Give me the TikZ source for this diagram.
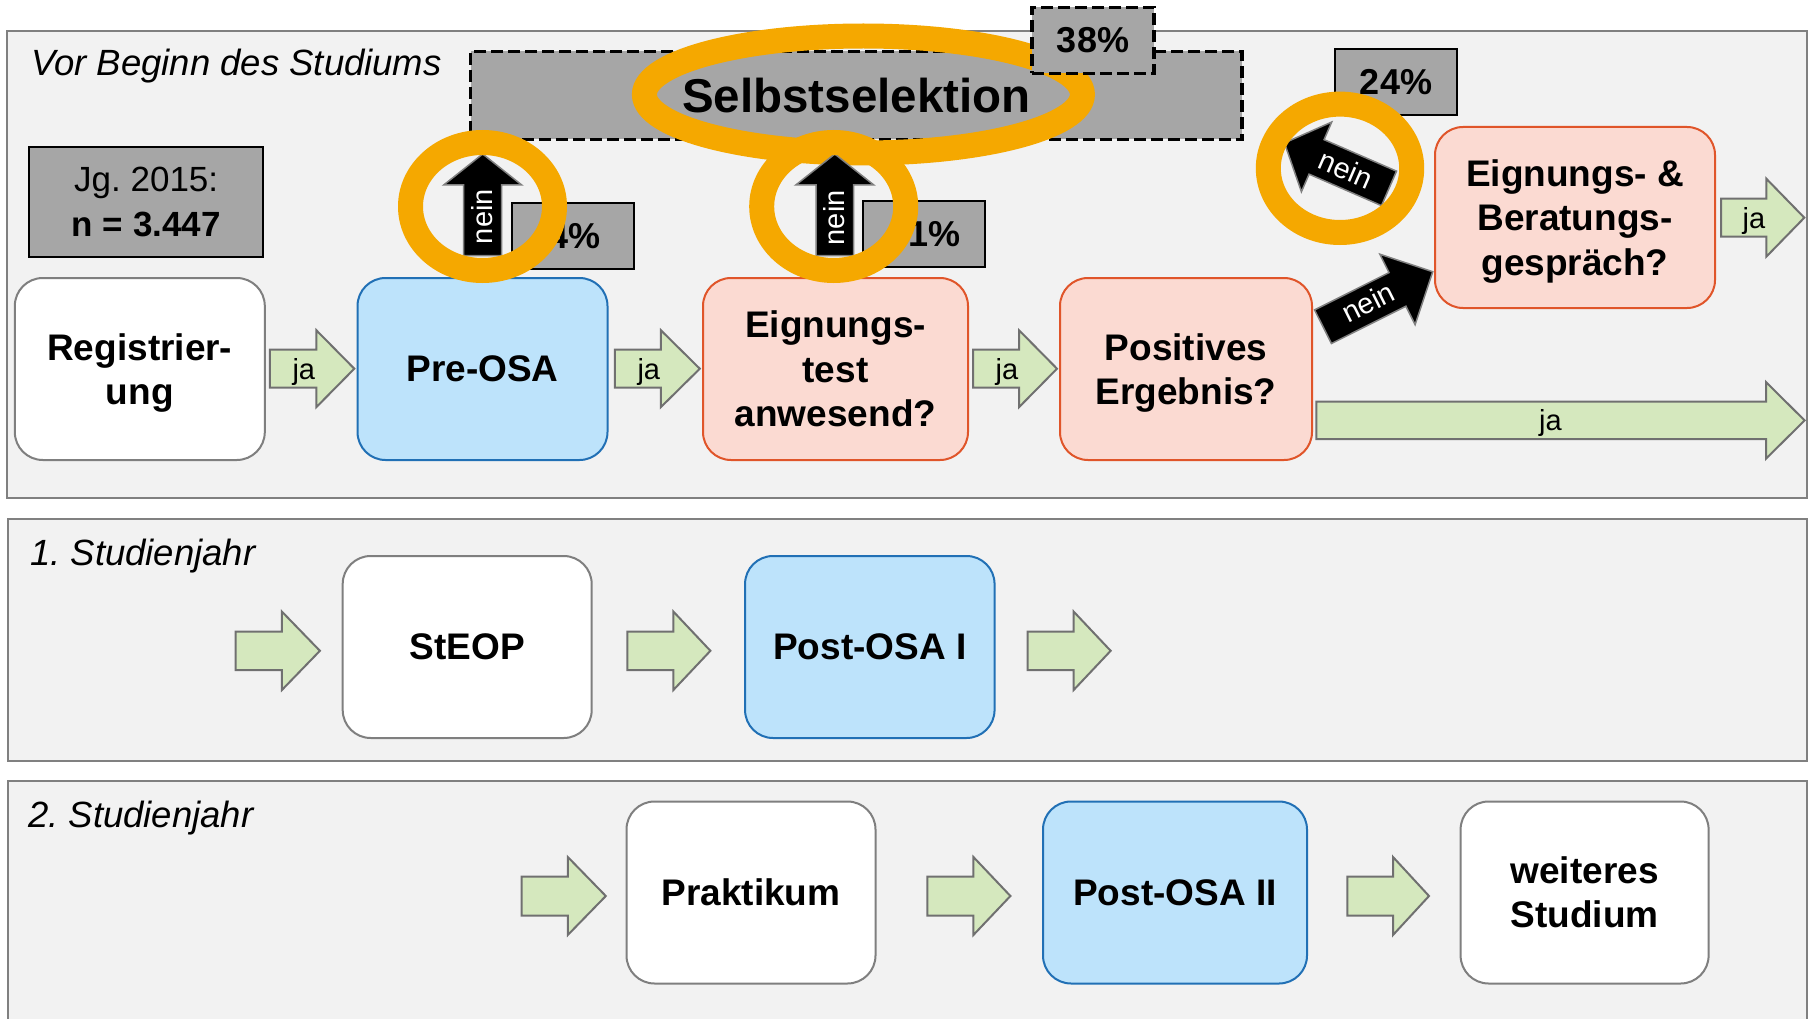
\documentclass[tikz,border=0pt]{standalone}
\usepackage{fontspec}
\setmainfont{Liberation Sans}
\usetikzlibrary{calc}
\frenchspacing
\definecolor{panelfill}{HTML}{F2F2F2}
\definecolor{panelline}{HTML}{808080}
\definecolor{bluefill}{HTML}{BDE3FB}
\definecolor{blueline}{HTML}{2170B5}
\definecolor{pinkfill}{HTML}{FBDAD2}
\definecolor{pinkline}{HTML}{E0552A}
\definecolor{greenfill}{HTML}{D5E8BE}
\definecolor{arrowline}{HTML}{707070}
\definecolor{boxgray}{HTML}{A6A6A6}
\definecolor{ringorange}{HTML}{F5A800}
\definecolor{whiteline}{HTML}{7F7F7F}
\tikzset{
  pics/barrow/.style args={#1/#2/#3/#4}{code={%
    \path[pic actions] (0,#2) -- ({#1-#4},#2) -- ({#1-#4},#3) -- (#1,0) -- ({#1-#4},-#3) -- ({#1-#4},-#2) -- (0,-#2) -- cycle;}},
  panel/.style={draw=panelline, fill=panelfill, line width=2.5pt},
  paneltitle/.style={anchor=base west, inner sep=0pt, font=\fontsize{36.5}{44}\selectfont\itshape},
  stepbox/.style={rounded corners=28pt, line width=2pt, minimum width=250pt, minimum height=182pt, align=center, inner sep=0pt, font=\fontsize{37}{44.5}\selectfont\bfseries},
  whitebox/.style={stepbox, draw=whiteline, fill=white},
  bluebox/.style={stepbox, draw=blueline, fill=bluefill},
  pinkbox/.style={stepbox, draw=pinkline, fill=pinkfill},
  pctbox/.style={draw=black, fill=boxgray, line width=2pt, minimum width=122pt, minimum height=66pt, inner sep=0pt, font=\fontsize{36}{40}\selectfont\bfseries},
  dashbox/.style={line width=3.3pt, dash pattern=on 12pt off 5pt},
  garrow/.style={draw=arrowline, fill=greenfill, line width=2pt},
  narrow/.style={draw=black!50, fill=black, line width=1.5pt},
  jalabel/.style={anchor=base, inner sep=0pt, font=\fontsize{29}{32}\selectfont},
  neinlabel/.style={anchor=base, inner sep=0pt, text=white, font=\fontsize{29}{32}\selectfont},
  ring/.style={draw=ringorange, line width=25pt}
}
\begin{document}
\begin{tikzpicture}[x=1pt,y=-1pt]
\useasboundingbox (0,0) rectangle (1809,1019);
\clip (0,0) rectangle (1809,1019);

% panels
\draw[panel] (7,31) rectangle (1807,498);
\draw[panel] (8,519) rectangle (1807,761);
\draw[panel] (8,781) rectangle (1807,1040);
\node[paneltitle] (t1) at (31,76) {Vor Beginn des Studiums};
\node[paneltitle] (t2) at (30,565) {1. Studienjahr};
\node[paneltitle] (t3) at (28,827) {2. Studienjahr};

% Selbstselektion
\node[draw=black, fill=boxgray, dashbox, minimum width=771.3pt, minimum height=88pt, inner sep=0pt,
      font=\fontsize{47.5}{50}\selectfont\bfseries] (sel) at (856.4,95.5) {Selbstselektion};
\draw[ring] (863.4,94.5) ellipse [x radius=219, y radius=58.5];
\node[pctbox, dashbox] (p38) at (1093,40.3) {38\%};

% sample box
\node[draw=black, fill=boxgray, line width=2pt, minimum width=234.5pt, minimum height=110.6pt,
      align=center, inner sep=0pt, font=\fontsize{35}{44.7}\selectfont] (jg) at (146.2,202)
      {Jg. 2015:\\{\bfseries n = 3.447}};

% percentage boxes
\node[pctbox] (p4) at (572.7,236) {\hspace*{3pt}4\%};
\node[pctbox] (p1) at (924.4,234) {\hspace*{20pt}1\%};
\node[pctbox] (p24) at (1396,81.7) {24\%};

% steps, panel 1
\node[whitebox] (reg) at (139.8,369) {Registrier-\\\smash{ung}};
\node[bluebox] (pre) at (482.5,369) {Pre-OSA};
\node[pinkbox, minimum width=265pt] (eig) at (835.5,369) {Eignungs-\\test\\anwesend?};
\node[pinkbox, minimum width=252pt] (pos) at (1186,369) {Positives\\\smash{Ergebnis?}};
\node[pinkbox, minimum width=280pt, minimum height=181pt] (ebg) at (1575,217.5) {Eignungs- \&\\Beratungs-\\\smash{gespräch?}};

% steps, panel 2
\node[whitebox, minimum width=249pt] (steop) at (467.2,647) {StEOP};
\node[bluebox, minimum width=249.5pt] (posta) at (869.8,647) {Post-OSA I};

% steps, panel 3
\node[whitebox, minimum width=249pt] (prak) at (751,892.5) {Praktikum};
\node[bluebox, minimum width=264pt] (postb) at (1175,892.5) {Post-OSA II};
\node[whitebox, minimum width=248pt] (weit) at (1584.6,892.5) {weiteres\\Studium};

% green "ja" arrows, panel 1
\coordinate (a1) at ($(reg.east)+(4,-0.3)$);
\pic[garrow] at (a1) {barrow={84.5/19/38.5/38}};
\node[jalabel] (a1l) at ($(a1)+(34,10.5)$) {ja};
\coordinate (a2) at ($(pre.east)+(6.3,-0.3)$);
\pic[garrow] at (a2) {barrow={85/19/38.5/39}};
\node[jalabel] (a2l) at ($(a2)+(34,10.5)$) {ja};
\coordinate (a3) at ($(eig.east)+(4,-0.3)$);
\pic[garrow] at (a3) {barrow={84/19/38.5/38}};
\node[jalabel] (a3l) at ($(a3)+(34,10.5)$) {ja};
\coordinate (a4) at ($(pos.east)+(3.4,51.4)$);
\pic[garrow] at (a4) {barrow={488.2/18.7/38.3/38.6}};
\node[jalabel] (a4l) at ($(a4)+(234,10.5)$) {ja};
\coordinate (a5) at ($(ebg.east)+(5,0.2)$);
\pic[garrow] at (a5) {barrow={83.3/19/39/38}};
\node[jalabel] (a5l) at ($(a5)+(33,10.5)$) {ja};

% green arrows, panel 2
\coordinate (b1) at ($(steop.west)+(-106,3.8)$);
\pic[garrow] at (b1) {barrow={84.2/19.2/39.2/38}};
\coordinate (b2) at ($(steop.east)+(34.6,3.8)$);
\pic[garrow] at (b2) {barrow={83.1/19.2/39.2/37}};
\coordinate (b3) at ($(posta.east)+(32.1,3.8)$);
\pic[garrow] at (b3) {barrow={83/19.2/39.2/37}};

% green arrows, panel 3
\coordinate (c1) at ($(prak.west)+(-103.9,3.5)$);
\pic[garrow] at (c1) {barrow={84.2/19.5/39/38}};
\coordinate (c2) at ($(prak.east)+(50.8,3.5)$);
\pic[garrow] at (c2) {barrow={83.1/19.5/39/37}};
\coordinate (c3) at ($(postb.east)+(39.3,3.5)$);
\pic[garrow] at (c3) {barrow={81.7/19.5/39/36}};

% black "nein" arrows
\coordinate (n1) at ($(pre.north)+(0.2,-21.3)$);
\pic[narrow, rotate=90] at (n1) {barrow={101.7/19/39/31}};
\node[neinlabel, rotate=90] (n1l) at (492.4,216.7) {nein};
\coordinate (n2) at ($(eig.north)+(-0.7,-21.3)$);
\pic[narrow, rotate=90] at (n2) {barrow={101.7/18.8/39/31}};
\node[neinlabel, rotate=90] (n2l) at (844.5,217.8) {nein};
\coordinate (n3) at ($(ebg.west)+(-45,-29.1)$);
\pic[narrow, rotate=156.5] at (n3) {barrow={114/18.8/38/35}};
\node[neinlabel, rotate=-23.5] (n3l) at (1342,178.6) {nein};
\coordinate (n4) at ($(pos.east)+(10,-42.3)$);
\pic[narrow, rotate=26.6] at (n4) {barrow={122.7/18.8/39.4/39.4}};
\node[neinlabel, rotate=26.6] (n4l) at (1372.7,311.7) {nein};

% orange highlight rings
\draw[ring] (482.5,206.5) ellipse [x radius=72, y radius=64];
\draw[ring] (833.7,206.5) ellipse [x radius=72, y radius=64];
\draw[ring] (1340,168.3) ellipse [x radius=71.7, y radius=64.2];
\end{tikzpicture}
\end{document}
